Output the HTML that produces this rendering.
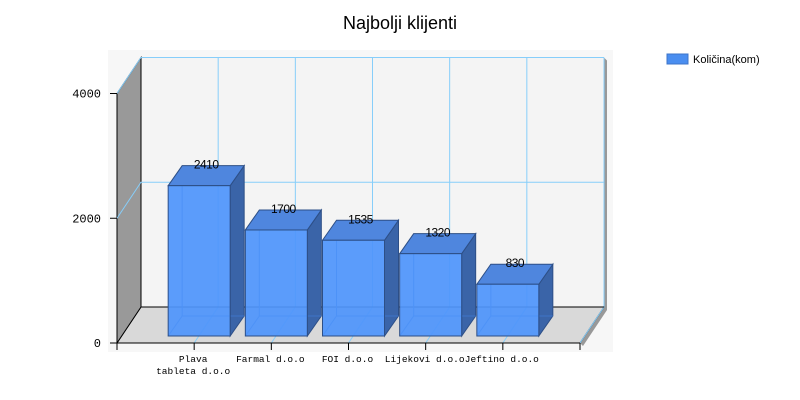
<!DOCTYPE html>
<html><head><meta charset="utf-8"><style>body{margin:0;background:#fff}svg{display:block}</style></head>
<body>
<svg id="c" width="800" height="400" xmlns="http://www.w3.org/2000/svg">
<rect x="108" y="50" width="505" height="302" fill="#f7f7f7"/>
<text x="400" y="29" text-anchor="middle" font-family="Liberation Sans, sans-serif" font-size="18" fill="#000">Najbolji klijenti</text>
<g id="plot"></g>
<rect x="667" y="54" width="21" height="10" fill="#4a8ef0" stroke="#3d74c9"/>
<text x="693" y="63" font-family="Liberation Sans, sans-serif" font-size="11" fill="#000">Količina(kom)</text>
</svg>
<script>
const categories = [["Plava","tableta d.o.o"],["Farmal d.o.o"],["FOI d.o.o"],["Lijekovi d.o.o"],["Jeftino d.o.o"]];
const values = [2410, 1700, 1535, 1320, 830];
const yTicks = [0, 2000, 4000];
const yMax = 4000;

const NS="http://www.w3.org/2000/svg";
const g=document.getElementById('plot');
const X0=117, X1=580, Y0=343, H=249.5, DX=24, DY=-36;
const slot=(X1-X0)/(categories.length+1);
const y=v=>Y0-v/yMax*H;
const xc=i=>X0+slot*(i+1);
function mk(t,a){const e=document.createElementNS(NS,t);for(const k in a)e.setAttribute(k,a[k]);g.appendChild(e);return e;}
const pts=a=>a.map(p=>p.join(',')).join(' ');

// back wall
let e=mk('polygon',{points:pts([[X0+DX,Y0+DY],[X1+DX,Y0+DY],[X1+DX,y(yMax)+DY],[X0+DX,y(yMax)+DY]]),fill:'#f4f4f4'});


// right shadow
e=mk('polygon',{points:pts([[X1+DX,y(yMax)+DY],[X1+DX+3,y(yMax)+DY+3],[X1+DX+3,Y0+DY+3],[X1+3,Y0+3],[X1,Y0],[X1+DX,Y0+DY]]),fill:'#999'});


// floor
e=mk('polygon',{points:pts([[X0,Y0],[X0+DX,Y0+DY],[X1+DX,Y0+DY],[X1,Y0]]),fill:'#d9d9d9',stroke:'#000'});


// left wall
e=mk('polygon',{points:pts([[X0,Y0],[X0+DX,Y0+DY],[X0+DX,y(yMax)+DY],[X0,y(yMax)]]),fill:'#999',stroke:'#000'});


// gridlines
yTicks.forEach(t=>{
  if(t>0){
    let l=mk('polyline',{points:pts([[X0,y(t)],[X0+DX,y(t)+DY],[X1+DX,y(t)+DY]]),fill:'none',stroke:'#87cefa','stroke-width':1});
    
    
  }
  let tk=mk('line',{x1:X0-7,x2:X0,y1:y(t),y2:y(t),stroke:'#000'});
  
  
  let tx=mk('text',{x:X0-16,y:y(t)+4,'text-anchor':'end','font-family':'Liberation Mono, monospace','font-size':12});
  tx.textContent=t;
  
  
});
for(let i=0;i<=categories.length;i++){
  let l=mk('polyline',{points:pts([[xc(i),Y0],[xc(i)+DX,Y0+DY],[xc(i)+DX,y(yMax)+DY]]),fill:'none',stroke:'#87cefa'});
  
  
}
e=mk('line',{x1:X0+DX,x2:X1+DX,y1:Y0+DY,y2:Y0+DY,stroke:'#000'});


// x axis
e=mk('line',{x1:X0-7,x2:X1,y1:Y0,y2:Y0,stroke:'#000'});


[X0,X1].forEach(x=>{let t=mk('line',{x1:x,x2:x,y1:Y0,y2:Y0+7,stroke:'#000'});

});
// bars
const bw=62, zx=5, zy=-7, dX=14, dY=-20;
values.forEach((v,i)=>{
  const cx=xc(i)+zx, l=cx-bw/2, r=cx+bw/2, b=Y0+zy, t=y(v)+zy;
  const grp=document.createElementNS(NS,'g');g.appendChild(grp);
  
  
  const add=(tag,a)=>{const q=document.createElementNS(NS,tag);for(const k in a)q.setAttribute(k,a[k]);grp.appendChild(q);return q;};
  add('polygon',{points:pts([[r,t],[r+dX,t+dY],[r+dX,b+dY],[r,b]]),fill:'#3a64a8',stroke:'#2d4f87'});
  add('polyline',{points:pts([[l,b],[l+dX,b+dY],[r+dX,b+dY]]),fill:'none',stroke:'#3d74c9'});
  add('line',{x1:l+dX,x2:l+dX,y1:t+dY,y2:b+dY,stroke:'#3d74c9'});
  add('polygon',{points:pts([[l,t],[l+dX,t+dY],[r+dX,t+dY],[r,t]]),fill:'#4f86de',stroke:'#2d4f87'});
  add('rect',{x:l,y:t,width:bw,height:b-t,fill:'#4f95fb','fill-opacity':0.93,stroke:'#2d4f87'});
  const lab=add('text',{x:cx+7,y:t-17,'text-anchor':'middle','font-family':'Liberation Sans, sans-serif','font-size':12,'letter-spacing':'-0.5'});
  lab.textContent=v;
  
  
  let tk=mk('line',{x1:xc(i),x2:xc(i),y1:Y0,y2:Y0+7,stroke:'#000'});
  
  
  categories[i].forEach((s,j)=>{
    let tx=mk('text',{x:xc(i)-1,y:Y0+19+j*12,'text-anchor':'middle','font-family':'Liberation Mono, monospace','font-size':9.5});
    tx.textContent=s;
    
    
  });
});
</script>
</body></html>
